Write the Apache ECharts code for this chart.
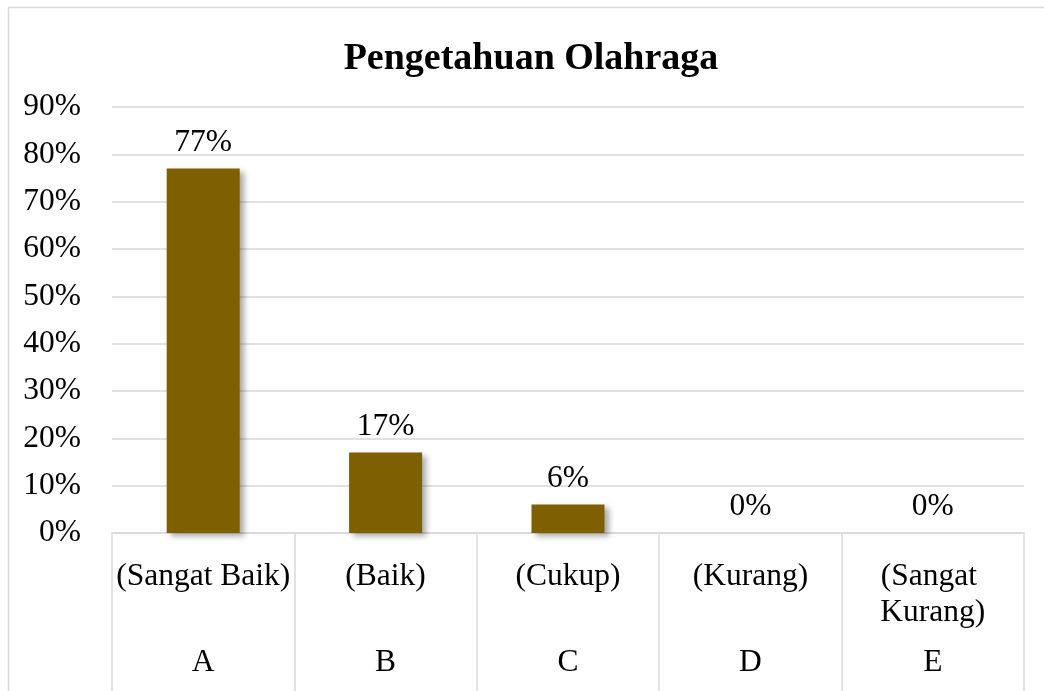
<!DOCTYPE html>
<html>
<head>
<meta charset="utf-8">
<script src="https://cdn.jsdelivr.net/npm/echarts@6/dist/echarts.min.js"></script>
<style>
	html, body { margin: 0; padding: 0; background: #fff; }
	#chart { width: 1044px; height: 691px; }
</style>
</head>
<body>
<div id="chart"></div>
<script>
var kategori = ['(Sangat Baik)', '(Baik)', '(Cukup)', '(Kurang)', '(Sangat Kurang)'];
var huruf = ['A', 'B', 'C', 'D', 'E'];
var persen = [77, 17, 6, 0, 0];

var serif = '"Liberation Serif", "Times New Roman", serif';
var grey = '#d9d9d9';
var fs = 31.5;

var myChart = echarts.init(document.getElementById('chart'));
var option = {
	animation: false,
	title: {
		text: 'Pengetahuan Olahraga',
		left: 526,
		top: 35,
		textAlign: 'center',
		textStyle: {
			color: '#000',
			fontFamily: serif,
			fontSize: 38,
			fontWeight: 'bold'
		}
	},
	graphic: [{
		type: 'rect',
		shape: { x: 8.5, y: 7.5, width: 1100, height: 800 },
		style: { fill: 'none', stroke: grey, lineWidth: 1.5 },
		silent: true
	}],
	grid: {
		left: 112,
		right: 20,
		top: 107,
		bottom: 158
	},
	xAxis: [{
		type: 'category',
		data: kategori,
		axisLine: { lineStyle: { color: grey, width: 1.5 } },
		axisTick: {
			show: true,
			interval: 0,
			length: 160,
			lineStyle: { color: grey, width: 1.5 }
		},
		axisLabel: {
			interval: 0,
			margin: 26,
			color: '#000',
			fontFamily: serif,
			fontSize: fs,
			lineHeight: 36,
			width: 180,
			overflow: 'break'
		}
	}, {
		type: 'category',
		position: 'bottom',
		data: huruf,
		axisLine: { show: false },
		axisTick: { show: false },
		axisLabel: {
			interval: 0,
			margin: 114,
			color: '#000',
			fontFamily: serif,
			fontSize: fs
		}
	}],
	yAxis: {
		type: 'value',
		min: 0,
		max: 90,
		interval: 10,
		axisLine: { show: false },
		axisTick: { show: false },
		axisLabel: {
			margin: 31,
			color: '#000',
			fontFamily: serif,
			fontSize: fs,
			formatter: '{value}%'
		},
		splitLine: { lineStyle: { color: grey, width: 1.5 } }
	},
	series: [{
		type: 'bar',
		data: persen,
		barWidth: 73,
		itemStyle: {
			color: '#7f6000',
			shadowColor: 'rgba(0,0,0,0.35)',
			shadowBlur: 6,
			shadowOffsetX: 4,
			shadowOffsetY: 3
		},
		label: {
			show: true,
			position: 'top',
			distance: 10,
			color: '#000',
			fontFamily: serif,
			fontSize: fs,
			formatter: '{c}%'
		}
	}]
};
myChart.setOption(option);
</script>
</body>
</html>
